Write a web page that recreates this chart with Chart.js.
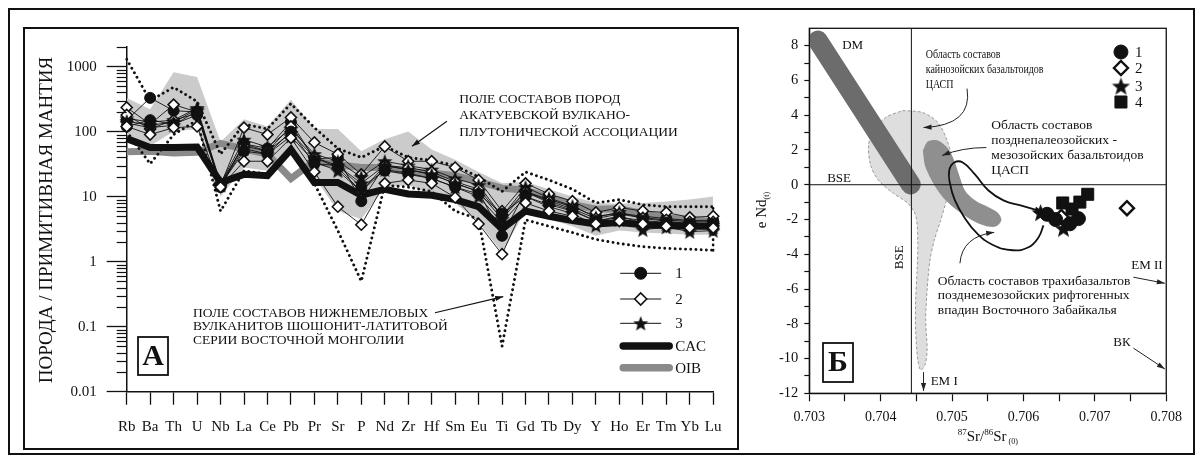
<!DOCTYPE html>
<html>
<head>
<meta charset="utf-8">
<script src="https://cdn.jsdelivr.net/npm/chart.js@4.4.1/dist/chart.umd.min.js"></script>
<style>
  html, body { margin: 0; padding: 0; background: #fff; }
  body { width: 1198px; height: 461px; position: relative; overflow: hidden; }
  #frame { position: absolute; left: 8px; top: 8px; width: 1187px; height: 447px; border: 2px solid #111; box-sizing: border-box; }
  #panelA { position: absolute; left: 23px; top: 27px; width: 716px; height: 423px; border: 2px solid #111; box-sizing: border-box; }
  canvas { position: absolute; }
  #spider { left: 24px; top: 28px; }
  #iso { left: 745px; top: 12px; }
</style>
</head>
<body>
<div id="frame"></div>
<div id="panelA"></div>
<canvas id="spider" width="713" height="420"></canvas>
<canvas id="iso" width="445" height="440"></canvas>
<script>
const SERIF = '"Liberation Serif", "Times New Roman", serif';
const INK = '#111111';

// ---------- Panel A: rock / primitive mantle ----------
const elements = ['Rb','Ba','Th','U','Nb','La','Ce','Pb','Pr','Sr','P','Nd','Zr','Hf','Sm','Eu','Ti','Gd','Tb','Dy','Y','Ho','Er','Tm','Yb','Lu'];
const spiderTicks = [0.01, 0.1, 1, 10, 100, 1000];
const spiderRange = [0.01, 2000];

// Akatuevo volcano-plutonic association (shaded field)
const akatuevUpper = [330, 220, 820, 690, 70, 155, 120, 310, 110, 110, 50, 76, 100, 53, 37, 24, 16, 17, 13, 10, 8, 7.8, 8, 8.4, 9, 10];
const akatuevLower = [90, 60, 100, 110, 10, 28, 25, 55, 20, 6, 4.5, 14, 15, 11, 8, 4, 1.4, 6, 4.5, 3.5, 2.5, 3, 2.8, 2.7, 2.6, 2.6];
// Lower Cretaceous shoshonite-latite volcanics of Eastern Mongolia (dotted field)
const mongoliaUpper = [1300, 300, 480, 290, 45, 130, 110, 270, 115, 55, 40, 60, 40, 36, 30, 20, 12, 24, 18, 13, 8, 9, 7.5, 7, 7, 7];
const mongoliaLower = [100, 32, 90, 150, 6, 25, 22, 50, 16, 3, 0.5, 15, 14, 12, 6, 4.5, 0.05, 4.4, 3.5, 2.8, 2.2, 1.9, 1.7, 1.6, 1.55, 1.5];
// reference compositions
const oib = [49, 50, 47, 48, 66, 54, 45, 19, 35, 31, 28, 28, 24, 23, 21, 17, 13.5, 12.5, 9.7, 7.6, 6.4, 6.5, 5.5, 4.7, 4.4, 4.1];
const cac = [78, 57, 57, 58, 16.5, 22, 21, 53, 16.5, 16.5, 10.5, 13, 11, 10.5, 9, 7, 3.2, 6, 5, 4.3, 3.8, 4, 3.7, 3.6, 3.5, 3.5];
// samples, group 1
const sample1a = [150, 330, 210, 200, 14, 65, 55, 140, 38, 40, 8.5, 30, 26, 22, 16, 12, 2.5, 12, 9, 7, 5, 5.5, 5, 4.6, 4.3, 4.3];
const sample1b = [120, 150, 130, 180, 15, 50, 45, 100, 32, 30, 14, 25, 22, 19, 14, 11, 5.5, 10, 7.5, 6, 4.2, 4.8, 4.3, 4, 3.8, 3.8];
// samples, group 2
const sample2a = [235, 130, 260, 200, 15, 115, 90, 165, 68, 45, 22, 59, 35, 35, 28, 18, 6, 16, 11, 8.5, 5.7, 6.8, 6, 5.7, 4.8, 5];
const sample2b = [120, 90, 115, 120, 14, 35, 35, 80, 24, 7, 3.7, 16, 18, 16, 9.7, 3.8, 1.3, 8, 6, 5, 3.8, 4.2, 3.8, 3.5, 3.3, 3.3];
const sample2c = [180, 110, 150, 190, 16, 60, 50, 120, 40, 28, 12, 30, 28, 24, 17, 13, 5, 12, 8.5, 6.5, 4.6, 5.4, 4.7, 4.4, 4.1, 4.1];
// samples, group 3
const sample3a = [160, 140, 150, 230, 16, 75, 58, 110, 45, 35, 20, 35, 30, 26, 19, 15, 5, 14, 9.5, 7.2, 4.8, 5.8, 4.6, 4.2, 3.8, 3.7];
const sample3b = [135, 115, 125, 210, 15, 55, 45, 85, 34, 25, 12, 26, 23, 19, 14, 10, 4, 10, 7, 5.5, 3.6, 4.4, 3.1, 3.4, 2.9, 3];
const sample3c = [145, 125, 140, 220, 15, 65, 50, 95, 40, 30, 16, 30, 26, 22, 16, 12, 4.5, 12, 8, 6.2, 4.2, 5, 3.9, 3.8, 3.3, 3.4];

// ---------- Panel Б: 87Sr/86Sr vs eNd ----------
const srTicks = [0.703, 0.704, 0.705, 0.706, 0.707, 0.708];
const ndTicks = [8, 6, 4, 2, 0, -2, -4, -6, -8, -10, -12];
const srRange = [0.703, 0.708];
const ndRange = [-12, 9];
const bseSr = 0.70443;
const bseNd = 0;
const dmSr = [0.70312, 0.70442];
const dmNd = [8.29, 0.02];
// Cenozoic basaltoids of the Central Asian province
const cenozoicSr = [0.70431, 0.70459, 0.70480, 0.70493, 0.70500, 0.70499, 0.70492, 0.70484, 0.70475, 0.70469, 0.70465, 0.70463, 0.70465, 0.70462, 0.70456, 0.70452, 0.70449, 0.70449, 0.70451, 0.70452, 0.70449, 0.70438, 0.70418, 0.70397, 0.70386, 0.70383, 0.70390, 0.70407, 0.70431];
const cenozoicNd = [4.27, 4.15, 3.58, 2.55, 1.40, 0.25, -0.90, -2.05, -3.20, -4.35, -6.07, -7.79, -9.51, -10.37, -10.66, -10.09, -8.37, -6.64, -4.92, -3.20, -1.76, -1.07, -0.50, 0.25, 1.11, 2.26, 3.12, 3.87, 4.27];
// Late Paleozoic - Mesozoic basaltoids
const mesozoicSr = [0.70459, 0.70466, 0.70480, 0.70493, 0.70503, 0.70510, 0.70518, 0.70532, 0.70551, 0.70565, 0.70569, 0.70562, 0.70548, 0.70528, 0.70507, 0.70491, 0.70480, 0.70470, 0.70462, 0.70459];
const mesozoicNd = [1.97, 2.49, 2.55, 2.14, 1.40, 0.54, -0.33, -0.90, -1.30, -1.65, -2.05, -2.39, -2.39, -2.05, -1.47, -0.90, -0.33, 0.36, 1.11, 1.97];
// trachybasalts of the Late Mesozoic rift basins of Eastern Transbaikalia
const transbaikalSr = [0.70628, 0.70621, 0.70607, 0.70585, 0.70558, 0.70535, 0.70518, 0.70504, 0.70497, 0.70496, 0.70503, 0.70515, 0.70532, 0.70551, 0.70572, 0.70596, 0.70620];
const transbaikalNd = [-2.34, -3.03, -3.60, -3.77, -3.48, -2.80, -1.93, -0.90, 0.08, 0.82, 1.28, 1.28, 0.59, -0.33, -0.90, -1.19, -1.47];
// studied samples
const iso1Sr = [0.70633, 0.70645, 0.70665, 0.70677];
const iso1Nd = [-1.7, -2.0, -2.25, -1.95];
const iso2Sr = [0.70653, 0.70745];
const iso2Nd = [-1.85, -1.35];
const iso3Sr = [0.70624, 0.70656];
const iso3Nd = [-1.6, -2.5];
const iso4Sr = [0.70655, 0.70668, 0.70679, 0.70690];
const iso4Nd = [-1.05, -1.4, -1.0, -0.55];

// ---------- drawing helpers ----------
function starImage(size) {
  const c = document.createElement('canvas');
  c.width = size; c.height = size;
  const g = c.getContext('2d');
  const R = size / 2, r = R * 0.42;
  g.beginPath();
  for (let i = 0; i < 10; i++) {
    const rad = i % 2 ? r : R;
    const a = -Math.PI / 2 + i * Math.PI / 5;
    const px = R + rad * Math.cos(a), py = R + rad * Math.sin(a) + size * 0.05;
    if (i) g.lineTo(px, py); else g.moveTo(px, py);
  }
  g.closePath();
  g.fillStyle = INK;
  g.fill();
  return c;
}
const starSmall = starImage(16);
const starLarge = starImage(19);

function arrowHead(ctx, fx, fy, tx, ty, len, half) {
  const a = Math.atan2(ty - fy, tx - fx);
  const c = Math.cos(a), s = Math.sin(a);
  ctx.beginPath();
  ctx.moveTo(tx, ty);
  ctx.lineTo(tx - len * c + half * s, ty - len * s - half * c);
  ctx.lineTo(tx - len * c - half * s, ty - len * s + half * c);
  ctx.closePath();
  ctx.fill();
}
function arrow(ctx, p0, p1, ctrl) {
  ctx.beginPath();
  ctx.moveTo(p0[0], p0[1]);
  if (ctrl) ctx.quadraticCurveTo(ctrl[0], ctrl[1], p1[0], p1[1]);
  else ctx.lineTo(p1[0], p1[1]);
  ctx.stroke();
  const from = ctrl || p0;
  arrowHead(ctx, from[0], from[1], p1[0], p1[1], 8, 2.6);
}
function labelBox(ctx, letter, x, y, w, h) {
  ctx.lineWidth = 1.8;
  ctx.strokeRect(x, y, w, h);
  ctx.font = `bold 30px ${SERIF}`;
  ctx.textAlign = 'center';
  ctx.textBaseline = 'middle';
  ctx.fillText(letter, x + w / 2, y + h / 2 + 1);
}
const near = (a, b) => Math.abs(a - b) < 1e-7 * Math.max(1, Math.abs(b));

// ---------- panel A decorations ----------
const akatuevCaption = { at: [14.17, 314], step: 16.5,
  lines: ['ПОЛЕ СОСТАВОВ ПОРОД', 'АКАТУЕВСКОЙ ВУЛКАНО-', 'ПЛУТОНИЧЕСКОЙ АССОЦИАЦИИ'],
  arrow: [[13.65, 144], [12.16, 59.4]] };
const mongoliaCaption = { at: [2.83, 0.16], step: 13.4,
  lines: ['ПОЛЕ СОСТАВОВ НИЖНЕМЕЛОВЫХ', 'ВУЛКАНИТОВ ШОШОНИТ-ЛАТИТОВОЙ', 'СЕРИИ ВОСТОЧНОЙ МОНГОЛИИ'],
  arrow: [[13.14, 0.164], [16.05, 0.29]] };

const circleStyle = { pointStyle: 'circle', pointRadius: 5.5, pointBackgroundColor: INK, pointBorderWidth: 1 };
const diamondStyle = { pointStyle: 'rectRot', pointRadius: 5.5, pointBackgroundColor: '#ffffff', pointBorderWidth: 1.6 };
const starStyle = { pointStyle: starSmall, pointRadius: 7, pointBackgroundColor: INK, pointBorderWidth: 0 };

const spiderLegend = [
  { text: '1', kind: 'sample', style: circleStyle },
  { text: '2', kind: 'sample', style: diamondStyle },
  { text: '3', kind: 'sample', style: starStyle },
  { text: 'CAC', kind: 'bar', color: INK },
  { text: 'OIB', kind: 'bar', color: '#8a8a8a' }
];

const spiderDecor = {
  id: 'spiderDecor',
  afterDraw(chart) {
    const { ctx, chartArea: ca, scales: { x, y } } = chart;
    const P = (i, v) => [x.getPixelForValue(i), y.getPixelForValue(v)];
    ctx.save();
    ctx.strokeStyle = INK;
    ctx.fillStyle = INK;

    // short ticks inside each decade of the log axis
    ctx.lineWidth = 1.2;
    for (let e = -2; e <= 3; e++) {
      for (let k = 2; k <= 9; k++) {
        const v = k * Math.pow(10, e);
        if (v > y.max * 1.0001) break;
        const py = Math.round(y.getPixelForValue(v)) + 0.5;
        ctx.beginPath();
        ctx.moveTo(ca.left - 10, py);
        ctx.lineTo(ca.left, py);
        ctx.stroke();
      }
    }

    // captions of the compositional fields
    ctx.font = `13.5px ${SERIF}`;
    ctx.textAlign = 'left';
    ctx.textBaseline = 'middle';
    for (const cap of [akatuevCaption, mongoliaCaption]) {
      const [tx, ty] = P(cap.at[0], cap.at[1]);
      cap.lines.forEach((s, k) => ctx.fillText(s, tx, ty + k * cap.step));
      ctx.lineWidth = 1.1;
      arrow(ctx, P(...cap.arrow[0]), P(...cap.arrow[1]));
    }

    // legend
    const rows = [-118.4, -92.7, -68.4, -45.7, -24];
    spiderLegend.forEach((item, k) => {
      const ly = ca.bottom + rows[k];
      const x0 = ca.right - 93, x1 = ca.right - 52;
      if (item.kind === 'sample') {
        ctx.lineWidth = 1;
        ctx.strokeStyle = INK;
        ctx.beginPath(); ctx.moveTo(x0, ly); ctx.lineTo(x1, ly); ctx.stroke();
        ctx.fillStyle = item.style.pointBackgroundColor;
        ctx.lineWidth = item.style.pointBorderWidth || 1;
        Chart.helpers.drawPoint(ctx, { pointStyle: item.style.pointStyle, radius: item.style.pointRadius + 0.5, rotation: 0, borderWidth: ctx.lineWidth }, (x0 + x1) / 2, ly);
      } else {
        ctx.strokeStyle = item.color;
        ctx.lineWidth = 7.5;
        ctx.lineCap = 'round';
        ctx.beginPath(); ctx.moveTo(x0 + 3, ly); ctx.lineTo(x1 + 8, ly); ctx.stroke();
        ctx.lineCap = 'butt';
      }
      ctx.fillStyle = INK;
      ctx.strokeStyle = INK;
      ctx.font = `15px ${SERIF}`;
      ctx.textAlign = 'left';
      ctx.textBaseline = 'middle';
      ctx.fillText(item.text, ca.right - 38, ly + 1);
    });

    // panel letter
    labelBox(ctx, 'А', ca.left + 11.3, ca.bottom - 54.7, 30, 38);

    // axis title
    ctx.save();
    ctx.translate(ca.left - 79.7, ca.top + 173);
    ctx.rotate(-Math.PI / 2);
    ctx.font = `19px ${SERIF}`;
    ctx.textAlign = 'center';
    ctx.textBaseline = 'middle';
    ctx.fillText('ПОРОДА / ПРИМИТИВНАЯ МАНТИЯ', 0, 0);
    ctx.restore();

    ctx.restore();
  }
};

const sampleLine = (values, style) => Object.assign({
  data: values, borderColor: INK, borderWidth: 0.9, pointBorderColor: INK, order: 2
}, style);
const dotted = { borderColor: INK, borderWidth: 2.9, borderDash: [0.01, 5.2], borderCapStyle: 'round', pointRadius: 0, order: 6 };
const hidden = 'rgba(0,0,0,0)';

new Chart(document.getElementById('spider'), {
  type: 'line',
  data: {
    labels: elements,
    datasets: [
      { data: akatuevUpper, fill: '+1', backgroundColor: '#cbcbcb', borderColor: hidden, borderWidth: 0, pointRadius: 0, order: 10 },
      { data: akatuevLower, fill: false, borderColor: hidden, borderWidth: 0, pointRadius: 0, order: 10 },
      { data: oib, borderColor: '#8a8a8a', borderWidth: 7, pointRadius: 0, order: 8 },
      Object.assign({ data: mongoliaUpper }, dotted),
      Object.assign({ data: mongoliaLower }, dotted),
      Object.assign({ data: [
        { x: elements[elements.length - 1], y: mongoliaLower[mongoliaLower.length - 1] },
        { x: elements[elements.length - 1], y: mongoliaUpper[mongoliaUpper.length - 1] }
      ] }, dotted),
      { data: cac, borderColor: INK, borderWidth: 7, pointRadius: 0, order: 4 },
      sampleLine(sample2b, diamondStyle),
      sampleLine(sample3b, starStyle),
      sampleLine(sample1b, circleStyle),
      sampleLine(sample3c, starStyle),
      sampleLine(sample2c, diamondStyle),
      sampleLine(sample3a, starStyle),
      sampleLine(sample2a, diamondStyle),
      sampleLine(sample1a, circleStyle)
    ]
  },
  options: {
    responsive: false,
    animation: false,
    events: [],
    layout: { padding: { left: 0, top: 19, right: 23.8, bottom: 0 } },
    plugins: { legend: { display: false }, tooltip: { enabled: false } },
    elements: { line: { tension: 0 }, point: { radius: 0 } },
    scales: {
      x: {
        type: 'category',
        offset: false,
        grid: { display: true, drawOnChartArea: false, drawTicks: true, tickLength: 13, offset: false, color: INK, tickColor: INK, tickWidth: 1.3 },
        border: { display: true, color: INK, width: 1.5 },
        ticks: { autoSkip: false, maxRotation: 0, minRotation: 0, padding: 13, color: INK, font: { family: SERIF, size: 15 } },
        afterFit: s => { s.height = 56.3; }
      },
      y: {
        type: 'logarithmic',
        min: spiderRange[0],
        max: spiderRange[1],
        grid: {
          display: true, drawOnChartArea: false, drawTicks: true, tickLength: 20, tickWidth: 1.3,
          tickColor: c => spiderTicks.some(t => near(c.tick.value, t)) ? INK : hidden
        },
        border: { display: true, color: INK, width: 1.5 },
        ticks: {
          autoSkip: false, padding: 10, color: INK, font: { family: SERIF, size: 15 },
          callback: v => { const t = spiderTicks.find(t => near(v, t)); return t === undefined ? '' : String(t); }
        },
        afterFit: s => { s.width = 102.7; }
      }
    }
  },
  plugins: [spiderDecor]
});

// ---------- panel Б decorations ----------
const isoCaptions = [
  { at: [0.70463, 7.48], step: 15, size: 13, squeeze: 0.77, lines: ['Область составов', 'кайнозойских базальтоидов', 'ЦАСП'] },
  { at: [0.70555, 3.41], step: 15, size: 13.5, squeeze: 1, lines: ['Область составов', 'позднепалеозойских -', 'мезозойских базальтоидов', 'ЦАСП'] },
  { at: [0.70480, -5.55], step: 14.6, size: 13.5, squeeze: 1, lines: ['Область составов трахибазальтов', 'позднемезозойских рифтогенных', 'впадин Восточного Забайкалья'] }
];
const isoLabels = [
  { text: 'DM', at: [0.70346, 8.0], align: 'left' },
  { text: 'BSE', at: [0.70325, 0.38], align: 'left' },
  { text: 'EM I', at: [0.70470, -11.35], align: 'left' },
  { text: 'EM II', at: [0.70795, -4.63], align: 'right' },
  { text: 'ВК', at: [0.70750, -9.11], align: 'right' }
];
const isoArrows = [
  { from: [0.70521, 5.53], ctrl: [0.70529, 3.41], to: [0.70460, 3.29] },
  { from: [0.70548, 2.14], ctrl: [0.70514, 2.14], to: [0.70486, 1.68] },
  { from: [0.70511, -4.52], ctrl: [0.70514, -2.97], to: [0.70559, -2.74] },
  { from: [0.70754, -5.32], to: [0.70798, -5.67] },
  { from: [0.70754, -9.40], to: [0.70798, -10.60] },
  { from: [0.70460, -10.78], to: [0.70460, -11.87] }
];
const isoLegend = [
  { text: '1', style: { pointStyle: 'circle', radius: 7 }, fill: INK, border: 1 },
  { text: '2', style: { pointStyle: 'rectRot', radius: 7 }, fill: '#ffffff', border: 2.4 },
  { text: '3', style: { pointStyle: starLarge, radius: 8 }, fill: INK, border: 0 },
  { text: '4', style: { pointStyle: 'rect', radius: 8.5 }, fill: INK, border: 1 }
];

const isoDecor = {
  id: 'isoDecor',
  afterDraw(chart) {
    const { ctx, chartArea: ca, scales: { x, y } } = chart;
    const P = (a) => [x.getPixelForValue(a[0]), y.getPixelForValue(a[1])];
    ctx.save();
    ctx.strokeStyle = INK;
    ctx.fillStyle = INK;

    // plot frame
    ctx.lineWidth = 1.3;
    ctx.strokeRect(ca.left, ca.top, ca.right - ca.left, ca.bottom - ca.top);

    // transbaikal field arrow tip
    const n = transbaikalSr.length;
    const [ax, ay] = P([transbaikalSr[n - 2], transbaikalNd[n - 2]]);
    const [bx, by] = P([transbaikalSr[n - 1], transbaikalNd[n - 1]]);
    arrowHead(ctx, ax, ay, bx + 6, by + 2, 9, 3);

    // captions
    ctx.textBaseline = 'middle';
    ctx.textAlign = 'left';
    for (const cap of isoCaptions) {
      const [tx, ty] = P(cap.at);
      ctx.font = `${cap.size}px ${SERIF}`;
      cap.lines.forEach((s, k) => {
        ctx.save();
        ctx.translate(tx, ty + k * cap.step);
        ctx.scale(cap.squeeze, 1);
        ctx.fillText(s, 0, 0);
        ctx.restore();
      });
    }
    ctx.font = `13px ${SERIF}`;
    for (const lb of isoLabels) {
      const [tx, ty] = P(lb.at);
      ctx.textAlign = lb.align;
      ctx.fillText(lb.text, tx, ty);
    }
    // vertical BSE label
    ctx.save();
    const [vx, vy] = P([0.70427, -4.17]);
    ctx.translate(vx, vy);
    ctx.rotate(-Math.PI / 2);
    ctx.textAlign = 'center';
    ctx.fillText('BSE', 0, 0);
    ctx.restore();

    // leader arrows
    ctx.lineWidth = 1;
    ctx.strokeStyle = '#222';
    ctx.fillStyle = '#222';
    for (const a of isoArrows) arrow(ctx, P(a.from), P(a.to), a.ctrl ? P(a.ctrl) : null);

    // legend
    const rows = [23.7, 39.7, 57.7, 73.7];
    isoLegend.forEach((item, k) => {
      const ly = ca.top + rows[k];
      ctx.fillStyle = item.fill;
      ctx.strokeStyle = INK;
      ctx.lineWidth = item.border;
      Chart.helpers.drawPoint(ctx, Object.assign({ rotation: 0, borderWidth: item.border }, item.style), ca.right - 45.3, ly);
      ctx.fillStyle = INK;
      ctx.font = `15px ${SERIF}`;
      ctx.textAlign = 'left';
      ctx.fillText(item.text, ca.right - 31.3, ly + 1);
    });

    // panel letter
    labelBox(ctx, 'Б', ca.left + 13.7, ca.bottom - 50.3, 30, 39);

    // x axis title: 87Sr/86Sr(0)
    const parts = [
      { t: '87', size: 9, dy: -6 }, { t: 'Sr/', size: 15, dy: 0 },
      { t: '86', size: 9, dy: -6 }, { t: 'Sr', size: 15, dy: 0 }, { t: ' (0)', size: 8, dy: 3 }
    ];
    let total = 0;
    parts.forEach(p => { ctx.font = `${p.size}px ${SERIF}`; p.w = ctx.measureText(p.t).width; total += p.w; });
    let cx = (ca.left + ca.right) / 2 - total / 2;
    const base = ca.bottom + 48;
    ctx.textAlign = 'left';
    ctx.textBaseline = 'alphabetic';
    parts.forEach(p => { ctx.font = `${p.size}px ${SERIF}`; ctx.fillText(p.t, cx, base + p.dy); cx += p.w; });

    // y axis title: e Nd(t)
    ctx.save();
    ctx.translate(ca.left - 48.3, ca.top + 181.7);
    ctx.rotate(-Math.PI / 2);
    const yParts = [{ t: 'e Nd', size: 15, dy: 0 }, { t: '(t)', size: 8, dy: 3 }];
    total = 0;
    yParts.forEach(p => { ctx.font = `${p.size}px ${SERIF}`; p.w = ctx.measureText(p.t).width; total += p.w; });
    cx = -total / 2;
    yParts.forEach(p => { ctx.font = `${p.size}px ${SERIF}`; ctx.fillText(p.t, cx, 5 + p.dy); cx += p.w; });
    ctx.restore();

    ctx.restore();
  }
};

const toXY = (xs, ys) => xs.map((v, i) => ({ x: v, y: ys[i] }));
const markers = (xs, ys, style) => Object.assign({
  data: toXY(xs, ys), showLine: false, pointBorderColor: INK, order: 1
}, style);

new Chart(document.getElementById('iso'), {
  type: 'line',
  data: {
    datasets: [
      { data: toXY(cenozoicSr, cenozoicNd), fill: 'shape', backgroundColor: '#dedede', borderColor: '#9a9a9a', borderWidth: 1, borderDash: [3, 2], tension: 0.3, pointRadius: 0, order: 20 },
      { data: toXY(dmSr, dmNd), borderColor: '#6c6c6c', borderWidth: 20, borderCapStyle: 'round', pointRadius: 0, clip: 0, order: 18 },
      { data: toXY(mesozoicSr, mesozoicNd), fill: 'shape', backgroundColor: '#8f8f8f', borderColor: hidden, borderWidth: 0, tension: 0.3, pointRadius: 0, order: 16 },
      { data: [{ x: srRange[0], y: bseNd }, { x: srRange[1], y: bseNd }], borderColor: INK, borderWidth: 1, pointRadius: 0, order: 14 },
      { data: [{ x: bseSr, y: ndRange[0] }, { x: bseSr, y: ndRange[1] }], borderColor: INK, borderWidth: 1, pointRadius: 0, order: 14 },
      { data: toXY(transbaikalSr, transbaikalNd), borderColor: INK, borderWidth: 1.8, tension: 0.45, pointRadius: 0, order: 12 },
      markers(iso4Sr, iso4Nd, { pointStyle: 'rect', pointRadius: 8.5, pointBackgroundColor: INK, pointBorderWidth: 1 }),
      markers(iso1Sr, iso1Nd, { pointStyle: 'circle', pointRadius: 7, pointBackgroundColor: INK, pointBorderWidth: 1 }),
      markers(iso3Sr, iso3Nd, { pointStyle: starLarge, pointRadius: 9, pointBackgroundColor: INK, pointBorderWidth: 0 }),
      markers(iso2Sr, iso2Nd, { pointStyle: 'rectRot', pointRadius: 7, pointBackgroundColor: '#ffffff', pointBorderWidth: 2.4 })
    ]
  },
  options: {
    responsive: false,
    animation: false,
    events: [],
    layout: { padding: { left: 0, top: 16.3, right: 16.7, bottom: 0 } },
    plugins: { legend: { display: false }, tooltip: { enabled: false } },
    scales: {
      x: {
        type: 'linear',
        min: srRange[0],
        max: srRange[1],
        grid: { display: true, drawOnChartArea: false, drawTicks: true, tickLength: 8, tickColor: INK, tickWidth: 1.2 },
        border: { display: true, color: INK, width: 1.3 },
        ticks: {
          stepSize: 0.0005, autoSkip: false, maxRotation: 0, padding: 8, color: INK, font: { family: SERIF, size: 14 },
          callback: v => { const t = srTicks.find(t => near(v, t)); return t === undefined ? '' : t.toFixed(3); }
        },
        afterFit: s => { s.height = 58.7; }
      },
      y: {
        type: 'linear',
        min: ndRange[0],
        max: ndRange[1],
        grid: {
          display: true, drawOnChartArea: false, drawTicks: true, tickLength: 5, tickWidth: 1.2,
          tickColor: c => c.tick.value > ndTicks[0] + 0.5 ? hidden : INK
        },
        border: { display: true, color: INK, width: 1.3 },
        ticks: {
          stepSize: 1, autoSkip: false, padding: 6, color: INK, font: { family: SERIF, size: 14.5 },
          callback: v => ndTicks.includes(v) ? String(v) : ''
        },
        afterFit: s => { s.width = 64.3; }
      }
    }
  },
  plugins: [isoDecor]
});
</script>
</body>
</html>
